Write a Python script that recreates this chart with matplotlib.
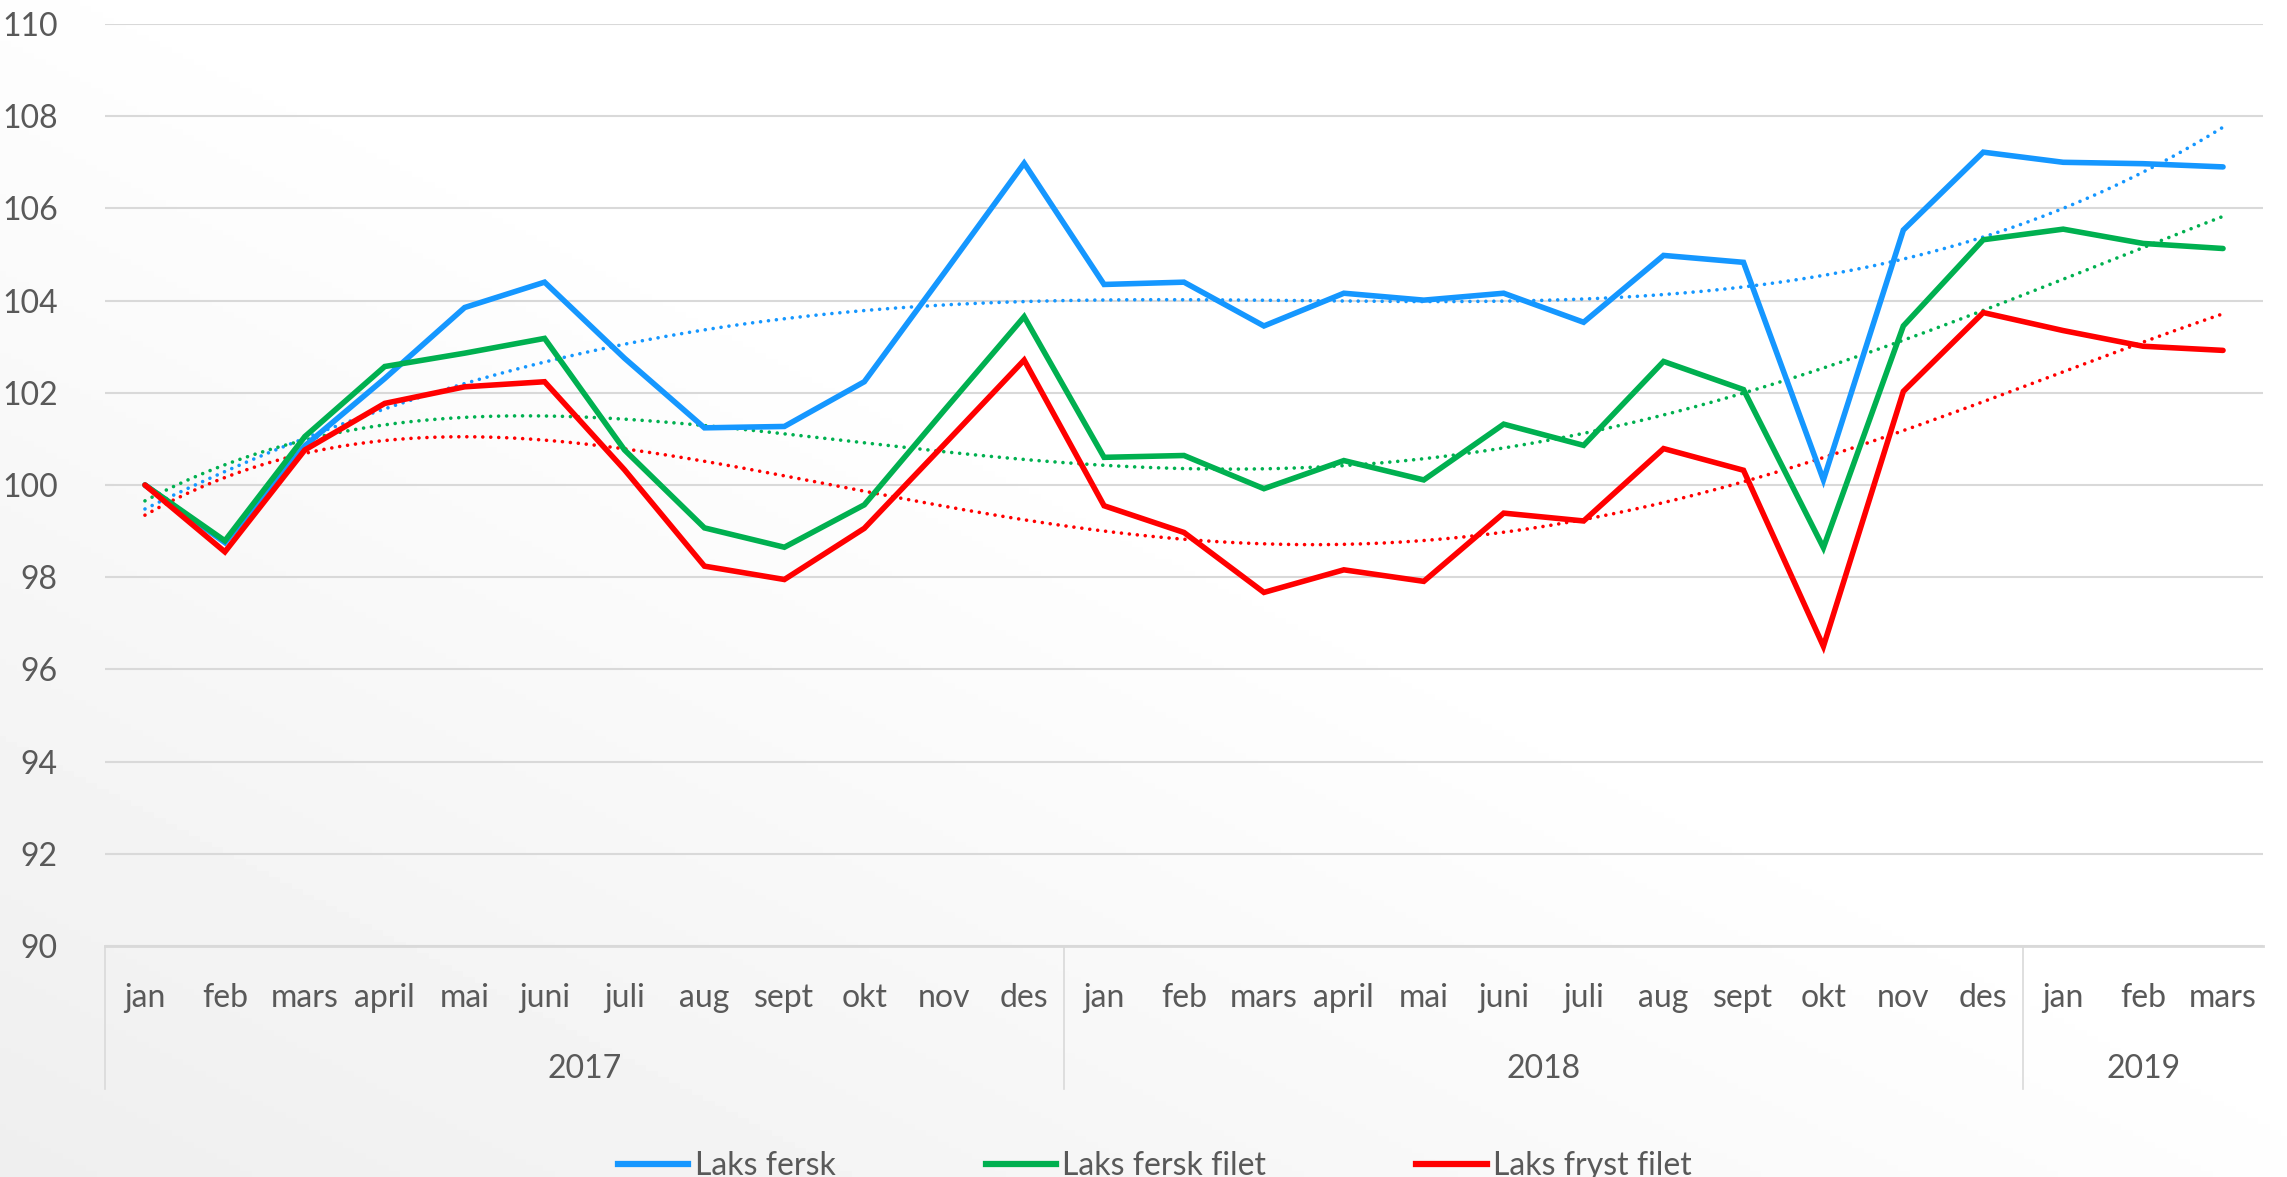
import numpy as np
import matplotlib
matplotlib.use("Agg")
import matplotlib.pyplot as plt
from matplotlib.lines import Line2D

# ---------------- DATA ---------------- #
MONTHS = ["jan", "feb", "mars", "april", "mai", "juni", "juli", "aug", "sept", "okt", "nov", "des"]
YEARS = ["2017", "2018", "2019"]
YEAR_LENGTHS = [12, 12, 3]
MONTH_LABELS = MONTHS + MONTHS + MONTHS[:3]

laks_fersk = [100.0, 98.75, 100.85, 102.31, 103.85, 104.40, 102.75, 101.24, 101.27, 102.24, 104.60, 106.98,
              104.35, 104.40, 103.45, 104.16, 104.01, 104.16, 103.53, 104.98, 104.83, 100.11, 105.53, 107.22,
              107.00, 106.97, 106.90]
laks_fersk_filet = [100.0, 98.79, 101.05, 102.57, 102.86, 103.18, 100.76, 99.07, 98.65, 99.57, 101.62, 103.65,
                    100.60, 100.64, 99.92, 100.53, 100.11, 101.32, 100.86, 102.68, 102.07, 98.64, 103.45, 105.32,
                    105.55, 105.24, 105.13]
laks_fryst_filet = [100.0, 98.55, 100.76, 101.77, 102.13, 102.24, 100.33, 98.24, 97.95, 99.06, 100.88, 102.71,
                    99.55, 98.97, 97.67, 98.16, 97.91, 99.39, 99.22, 100.79, 100.32, 96.50, 102.03, 103.74,
                    103.35, 103.01, 102.92]

SERIES = ["Laks fersk", "Laks fersk filet", "Laks fryst filet"]
COLORS = ["#1597FF", "#00B050", "#FF0000"]
TREND_ORDER = 4  # polynomial trendline, as in the Excel original

# ---------------- THEME ---------------- #
TEXT_COLOR = "#595959"
GRID_COLOR = "#D9D9D9"
FONT_SIZE = 23
plt.rcParams['font.family'] = ['Lato', 'DejaVu Sans']

W, H, DPI = 2287, 1177, 100
fig = plt.figure(figsize=(W / DPI, H / DPI), dpi=DPI)

# background gradient: light grey bottom-left -> white top-right
bg = fig.add_axes([0, 0, 1, 1], zorder=-10)
gx, gy = np.meshgrid(np.linspace(0, 1, 400), np.linspace(0, 1, 200))
t = (gx + gy) / 2.0  # 0 at bottom-left, 1 at top-right
shade = np.clip(0.935 + (1 - 0.935) * t / 0.55, 0, 1)
bg.imshow(shade, cmap="gray", vmin=0, vmax=1, origin="lower", aspect="auto", extent=[0, 1, 0, 1])
bg.axis("off")

left, right = 105 / W, 2263 / W
top, bottom = 1 - 24 / H, 1 - 946 / H
ax = fig.add_axes([left, bottom, right - left, top - bottom])
ax.patch.set_alpha(0)

x = np.arange(len(MONTH_LABELS))
xs = np.linspace(0, len(x) - 1, 300)
for name, vals, col in zip(SERIES, [laks_fersk, laks_fersk_filet, laks_fryst_filet], COLORS):
    ax.plot(x, vals, color=col, lw=4.0, solid_joinstyle="miter", solid_capstyle="round", zorder=3)
    coef = np.polyfit(x, vals, TREND_ORDER)
    ax.plot(xs, np.polyval(coef, xs), color=col, lw=2.6, linestyle=(0, (0.01, 2.2)),
            dash_capstyle="round", zorder=2)

ax.set_xlim(-0.5, len(x) - 0.5)
ax.set_ylim(90, 110)
ax.set_yticks(np.arange(90, 111, 2))
ax.yaxis.grid(True, color=GRID_COLOR, lw=1.5)
ax.set_axisbelow(True)
ax.tick_params(axis="y", length=0, pad=34, labelsize=FONT_SIZE, labelcolor=TEXT_COLOR)
ax.set_xticks([])
for s in ["top", "right", "left"]:
    ax.spines[s].set_visible(False)
ax.spines["bottom"].set_color(GRID_COLOR)
ax.spines["bottom"].set_linewidth(2)

# multi-level category axis
tr = ax.get_xaxis_transform()
for i, lab in enumerate(MONTH_LABELS):
    ax.text(i, -0.066, lab, transform=tr, ha="center", va="baseline",
            fontsize=FONT_SIZE, color=TEXT_COLOR, clip_on=False)
start = 0
for yr, n in zip(YEARS, YEAR_LENGTHS):
    ax.text(start + n / 2 - 0.5, -0.143, yr, transform=tr, ha="center", va="baseline",
            fontsize=FONT_SIZE, color=TEXT_COLOR, clip_on=False)
    ax.plot([start - 0.5, start - 0.5], [0, -0.155], transform=tr, color=GRID_COLOR,
            lw=1.2, clip_on=False)
    start += n

# legend at the bottom
handles = [Line2D([0], [0], color=c, lw=4.5) for c in COLORS]
fig.legend(handles, SERIES, loc="center", bbox_to_anchor=(0.505, 1 - 1166 / H), ncol=3,
           frameon=False, fontsize=FONT_SIZE, labelcolor=TEXT_COLOR, handlelength=2.2,
           handletextpad=0.2, columnspacing=4.7)

fig.savefig("out.png", dpi=DPI)
